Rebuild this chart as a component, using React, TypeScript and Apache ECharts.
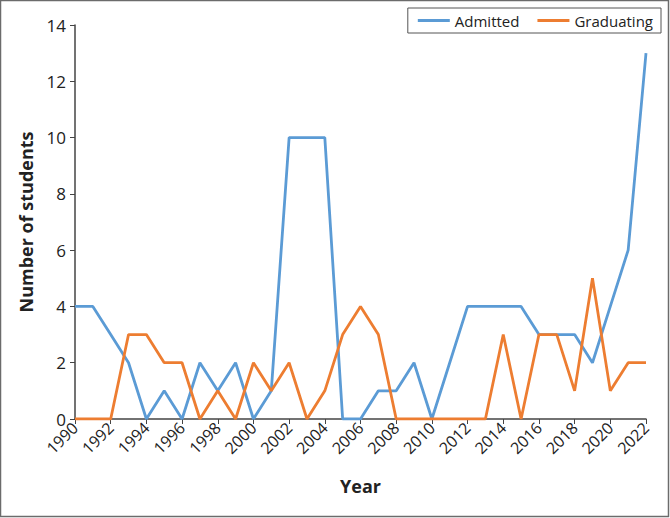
import React, { useEffect, useRef } from "react";
import * as echarts from "echarts";

const years: number[] = Array.from({ length: 33 }, (_, i) => 1990 + i);
const admitted: number[] = [4, 4, 3, 2, 0, 1, 0, 2, 1, 2, 0, 1, 10, 10, 10, 0, 0, 1, 1, 2, 0, 2, 4, 4, 4, 4, 3, 3, 3, 2, 4, 6, 13];
const graduating: number[] = [0, 0, 0, 3, 3, 2, 2, 0, 1, 0, 2, 1, 2, 0, 1, 3, 4, 3, 0, 0, 0, 0, 0, 0, 3, 0, 3, 3, 1, 5, 1, 2, 2];
const seriesNames = ["Admitted", "Graduating"];
const colors = ["#5B9BD5", "#ED7D31"];

export default function App() {
  const ref = useRef<HTMLDivElement>(null);
  useEffect(() => {
    if (!ref.current) return;
    const chart = echarts.init(ref.current, null, { renderer: "svg" });
    const font = "'Open Sans', 'Liberation Sans', sans-serif";
    chart.setOption({
      animation: false,
      textStyle: { fontFamily: font },
      graphic: [
        {
          type: "rect",
          shape: { x: 0.5, y: 0.5, width: 668, height: 516 },
          style: { fill: "none", stroke: "#6b6b6b", lineWidth: 1.5 },
          silent: true,
        },
      ],
      legend: {
        right: 9,
        top: 8,
        itemWidth: 32,
        itemHeight: 3,
        itemGap: 18,
        borderColor: "#555",
        borderWidth: 1,
        borderRadius: 0,
        padding: [5, 8, 5, 10],
        icon: "rect",
        textStyle: { fontSize: 15, color: "#222", fontFamily: font },
        data: seriesNames,
      },
      grid: { left: 75, right: 24, top: 25, bottom: 99 },
      xAxis: {
        type: "value",
        min: 1990,
        max: 2022,
        interval: 2,
        name: "Year",
        nameLocation: "middle",
        nameGap: 58,
        nameTextStyle: { fontSize: 18, fontWeight: "bold", color: "#222", fontFamily: font },
        axisLine: { lineStyle: { color: "#444", width: 1.5 } },
        axisTick: { show: true, length: 5, lineStyle: { color: "#444" } },
        axisLabel: { rotate: 45, fontSize: 16, color: "#222", margin: 6, formatter: (v: number) => String(v) },
        splitLine: { show: false },
      },
      yAxis: {
        type: "value",
        min: 0,
        max: 14,
        interval: 2,
        name: "Number of students",
        nameLocation: "middle",
        nameGap: 40,
        nameTextStyle: { fontSize: 18, fontWeight: "bold", color: "#222", fontFamily: font },
        axisLine: { show: true, lineStyle: { color: "#444", width: 1.5 } },
        axisTick: { show: true, length: 5, lineStyle: { color: "#444" } },
        axisLabel: { fontSize: 17, color: "#222", margin: 9 },
        splitLine: { show: false },
      },
      series: [
        {
          name: seriesNames[0],
          type: "line",
          data: years.map((y, i) => [y, admitted[i]]),
          showSymbol: false,
          symbol: "none",
          lineStyle: { color: colors[0], width: 2.8 },
          itemStyle: { color: colors[0] },
        },
        {
          name: seriesNames[1],
          type: "line",
          data: years.map((y, i) => [y, graduating[i]]),
          showSymbol: false,
          symbol: "none",
          lineStyle: { color: colors[1], width: 2.8 },
          itemStyle: { color: colors[1] },
        },
      ],
    });
    return () => chart.dispose();
  }, []);
  return (
    <div
      ref={ref}
      style={{ position: "fixed", left: 0, top: 0, width: 670, height: 518, background: "#fff" }}
    />
  );
}
